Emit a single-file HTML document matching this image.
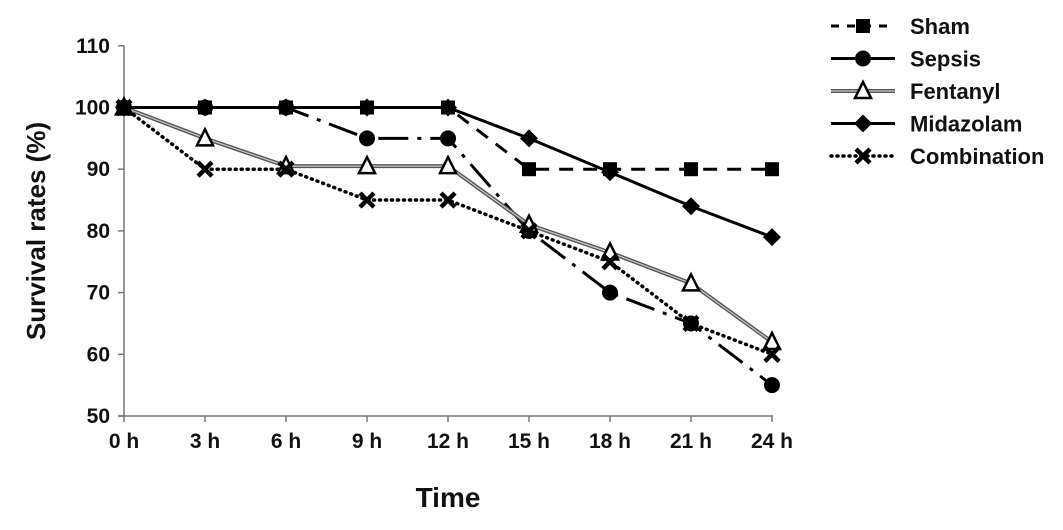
<!DOCTYPE html>
<html><head><meta charset="utf-8"><style>
body{margin:0;background:#fff;}
svg text{font-family:"Liberation Sans",Arial,sans-serif;font-weight:bold;fill:#111;}
</style></head><body>
<svg id="chart" width="1063" height="525" viewBox="0 0 1063 525" xmlns="http://www.w3.org/2000/svg">
<g id="axes"></g><g id="series"></g><g id="legend"></g>
<text x="0" y="0" transform="translate(45,231) rotate(-90)" text-anchor="middle" font-size="26">Survival rates (%)</text>
<text x="448" y="507" text-anchor="middle" font-size="28">Time</text>
</svg>
<script>
const categories=["0 h","3 h","6 h","9 h","12 h","15 h","18 h","21 h","24 h"];
const yTicks=[50,60,70,80,90,100,110];
const sham=[100,100,100,100,100,90,90,90,90];
const sepsis=[100,100,100,95,95,80,70,65,55];
const fentanyl=[100,95,90.5,90.5,90.5,81,76.5,71.5,62];
const midazolam=[100,100,100,100,100,95,89.5,84,79];
const combination=[100,90,90,85,85,80,75,65,60];
const seriesNames=["Sham","Sepsis","Fentanyl","Midazolam","Combination"];
const NS="http://www.w3.org/2000/svg";
const X0=124,STEP=81,Y0=416,YPX=6.17;
const xs=i=>X0+i*STEP, ys=v=>Y0-(v-50)*YPX;
function mk(tag,attrs,parent){const e=document.createElementNS(NS,tag);for(const k in attrs)e.setAttribute(k,attrs[k]);parent.appendChild(e);return e;}
const axes=document.getElementById('axes');
let l=mk('line',{x1:X0,y1:ys(110),x2:X0,y2:Y0,stroke:'#777','stroke-width':1.5},axes);


l=mk('line',{x1:X0-6,y1:Y0,x2:xs(8)+1,y2:Y0,stroke:'#777','stroke-width':1.5},axes);


yTicks.forEach(v=>{mk('line',{x1:X0-6,y1:ys(v),x2:X0,y2:ys(v),stroke:'#777','stroke-width':1.5},axes);
 const t=mk('text',{x:X0-14,y:ys(v)+7,'text-anchor':'end','font-size':21},axes);t.textContent=v;
 
 });
categories.forEach((c,i)=>{mk('line',{x1:xs(i),y1:Y0,x2:xs(i),y2:Y0+6,stroke:'#777','stroke-width':1.5},axes);
 const t=mk('text',{x:xs(i),y:Y0+32,'text-anchor':'middle','font-size':21},axes);t.textContent=c;
 
 });
const styles=[
 {data:sham,dash:'14,10',w:3,marker:'square'},
 {data:sepsis,dash:'30,9,4,9',w:3,marker:'circle'},
 {data:fentanyl,dash:'',w:3.5,marker:'triangle',dbl:true},
 {data:midazolam,dash:'',w:3,marker:'diamond'},
 {data:combination,dash:'1,5',w:3.5,marker:'cross',cap:'round'}];
function marker(type,x,y,g){
 if(type==='square')return mk('rect',{x:x-7,y:y-7,width:14,height:14,fill:'#000'},g);
 if(type==='circle')return mk('circle',{cx:x,cy:y,r:8,fill:'#000'},g);
 if(type==='triangle')return mk('polygon',{points:`${x},${y-9} ${x+8},${y+7} ${x-8},${y+7}`,fill:'#fff',stroke:'#000','stroke-width':2.5},g);
 if(type==='diamond')return mk('polygon',{points:`${x},${y-9} ${x+9},${y} ${x},${y+9} ${x-9},${y}`,fill:'#000'},g);
 return mk('path',{d:`M${x-7},${y-7}L${x+7},${y+7}M${x+7},${y-7}L${x-7},${y+7}`,stroke:'#000','stroke-width':4.5},g);}
function drawLine(pts,s,g){
 if(s.dbl){mk('polyline',{points:pts,fill:'none',stroke:'#555','stroke-width':4},g);
  mk('polyline',{points:pts,fill:'none',stroke:'#ccc','stroke-width':1.2},g);return;}
 const a={points:pts,fill:'none',stroke:'#000','stroke-width':s.w};
 if(s.dash)a['stroke-dasharray']=s.dash; if(s.cap)a['stroke-linecap']=s.cap;
 mk('polyline',a,g);}
const sg=document.getElementById('series');
styles.forEach((s,k)=>{const g=mk('g',{},sg);
 
 
 drawLine(s.data.map((v,i)=>xs(i)+','+ys(v)).join(' '),s,g);
 s.data.forEach((v,i)=>{const m=marker(s.marker,xs(i),ys(v),g);
  
  });});
const lg=document.getElementById('legend');
styles.forEach((s,k)=>{const y=26+k*32.5;const g=mk('g',{},lg);
 
 
 const ls=Object.assign({},s); if(k===0)ls.dash='8,8'; if(k===1)ls.dash='';
 drawLine(`831,${y} 895,${y}`,ls,g);marker(s.marker,863,y,g);
 const t=mk('text',{x:910,y:y+8,'font-size':22},g);t.textContent=seriesNames[k];});
</script>
</body></html>
